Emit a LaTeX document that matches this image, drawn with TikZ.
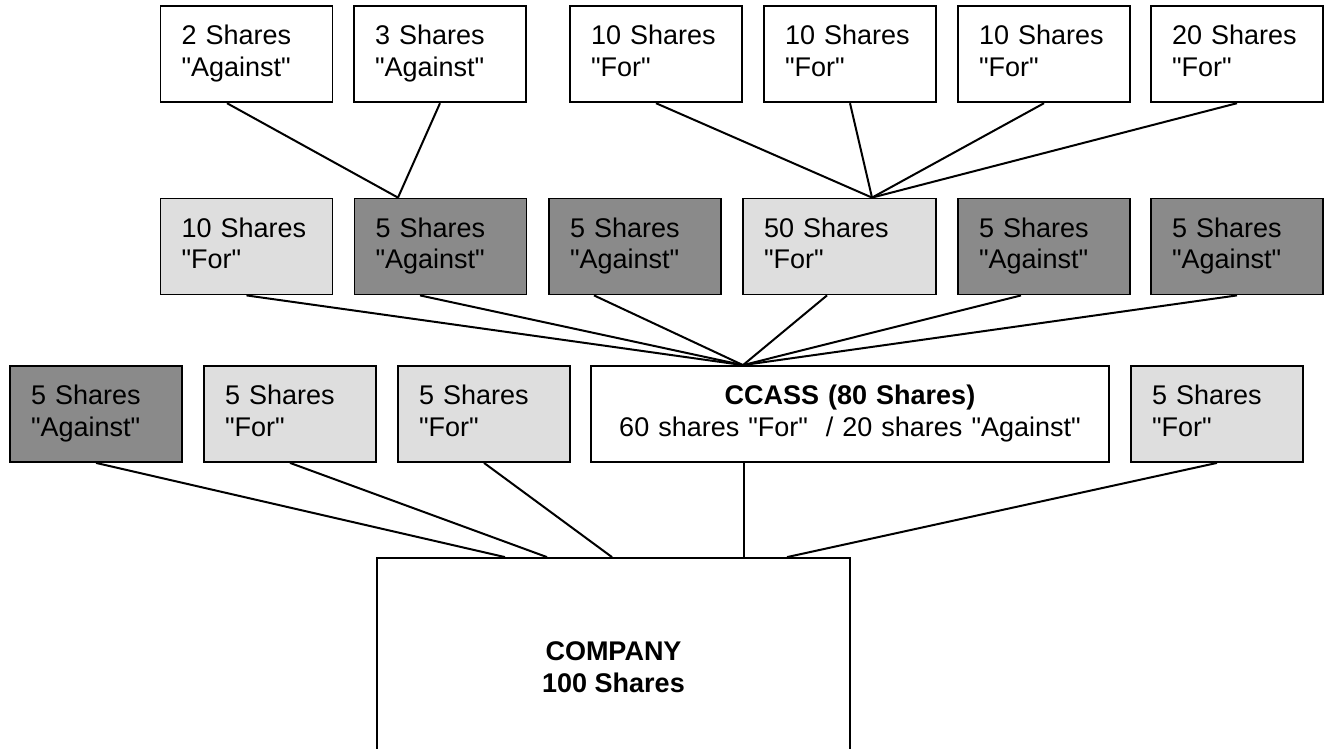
\documentclass[tikz,border=0pt]{standalone}
\usepackage{fontspec}
\setmainfont{Liberation Sans}[Ligatures=TeXOff]
\begin{document}
\begin{tikzpicture}[x=1pt,y=-1pt,
  every node/.style={font=\fontsize{27}{31.5}\selectfont},
  sbox/.style={draw=black, line width=1.8pt, minimum height=96pt, inner xsep=21pt,
    inner ysep=0pt, text width=130pt, align=left},
  wbox/.style={sbox, fill=white},
  lbox/.style={sbox, fill=lightg},
  dbox/.style={sbox, fill=darkg},
  conn/.style={draw=black, line width=2pt}
]
\definecolor{lightg}{HTML}{DEDEDE}
\definecolor{darkg}{HTML}{8A8A8A}
\clip (0,0) rectangle (1330,748);
\fill[white] (0,0) rectangle (1330,748);

% top row
\node[wbox] (A1) at (246.5,54.3) {\strut 2 Shares\\"Against"\strut};
\node[wbox] (A2) at (440,54.3) {\strut 3 Shares\\"Against"\strut};
\node[wbox] (A3) at (656,54.3) {\strut 10 Shares\\"For"\strut};
\node[wbox] (A4) at (850,54.3) {\strut 10 Shares\\"For"\strut};
\node[wbox] (A5) at (1044,54.3) {\strut 10 Shares\\"For"\strut};
\node[wbox] (A6) at (1237,54.3) {\strut 20 Shares\\"For"\strut};

% middle row
\node[lbox] (B1) at (246.5,246.5) {\strut 10 Shares\\"For"\strut};
\node[dbox] (B2) at (440.5,246.5) {\strut 5 Shares\\"Against"\strut};
\node[dbox] (B3) at (635,246.5) {\strut 5 Shares\\"Against"\strut};
\node[lbox, text width=151pt] (B4) at (839.5,246.5) {\strut 50 Shares\\"For"\strut};
\node[dbox] (B5) at (1044,246.5) {\strut 5 Shares\\"Against"\strut};
\node[dbox] (B6) at (1237,246.5) {\strut 5 Shares\\"Against"\strut};

% bottom row
\node[dbox] (C1) at (96,414) {\strut 5 Shares\\"Against"\strut};
\node[lbox] (C2) at (290,414) {\strut 5 Shares\\"For"\strut};
\node[lbox] (C3) at (484,414) {\strut 5 Shares\\"For"\strut};
\node[wbox, text width=476pt, align=center] (C4) at (850,414)
  {\strut\textbf{CCASS (80 Shares)}\\60 shares "For"~~/ 20 shares "Against"\strut};
\node[lbox] (C5) at (1217,414) {\strut 5 Shares\\"For"\strut};

% company
\node[draw=black, line width=1.8pt, fill=white, minimum width=473pt, minimum height=218pt,
  align=center] (CO) at (613.5,667) {\textbf{COMPANY}\\\textbf{100 Shares}};

% connectors top -> middle
\coordinate (j1) at ([xshift=-42.5pt]B2.north);
\coordinate (j2) at ([xshift=32.5pt]B4.north);
\draw[conn] ([xshift=-19.5pt]A1.south) -- (j1);
\draw[conn] (A2.south) -- (j1);
\draw[conn] (A3.south) -- (j2);
\draw[conn] (A4.south) -- (j2);
\draw[conn] (A5.south) -- (j2);
\draw[conn] (A6.south) -- (j2);

% middle -> CCASS
\coordinate (j3) at ([xshift=-107pt]C4.north);
\draw[conn] (B1.south) -- (j3);
\draw[conn] ([xshift=-20.5pt]B2.south) -- (j3);
\draw[conn] ([xshift=-41pt]B3.south) -- (j3);
\draw[conn] ([xshift=-12.5pt]B4.south) -- (j3);
\draw[conn] ([xshift=-23pt]B5.south) -- (j3);
\draw[conn] (B6.south) -- (j3);

% bottom -> company
\draw[conn] (C1.south) -- ([xshift=-108.5pt]CO.north);
\draw[conn] (C2.south) -- ([xshift=-66.5pt]CO.north);
\draw[conn] (C3.south) -- ([xshift=-1.5pt]CO.north);
\draw[conn] ([xshift=-106pt]C4.south) -- ([xshift=130.5pt]CO.north);
\draw[conn] (C5.south) -- ([xshift=173.5pt]CO.north);
\end{tikzpicture}
\end{document}
